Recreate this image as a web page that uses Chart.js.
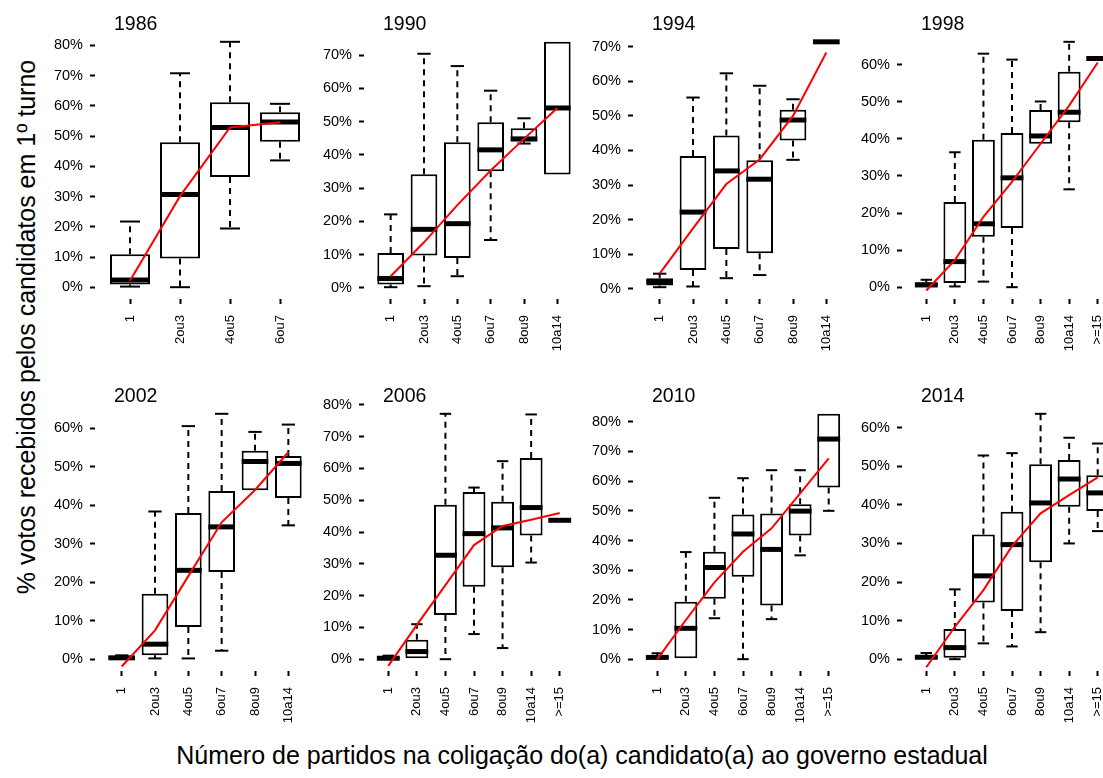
<!DOCTYPE html>
<html>
<head>
<meta charset="utf-8">
<script src="https://cdn.jsdelivr.net/npm/chart.js@4.4.1/dist/chart.umd.min.js"></script>
<style>
  html, body { margin: 0; padding: 0; background: #ffffff; }
  body { width: 1103px; height: 778px; position: relative; overflow: hidden;
         font-family: "Liberation Sans", Arial, sans-serif; color: #000; }
  canvas.panel { position: absolute; }
  #ytitle { position: absolute; left: 26px; top: 327px; white-space: nowrap; font-size: 25px;
            transform: translate(-50%, -50%) rotate(-90deg); }
  #xtitle { position: absolute; left: 582px; top: 755px; white-space: nowrap; font-size: 25px;
            transform: translate(-50%, -50%); }
</style>
</head>
<body>
<div id="ytitle">% votos recebidos pelos candidatos em 1º turno</div>
<div id="xtitle">Número de partidos na coligação do(a) candidato(a) ao governo estadual</div>
<script>
// Election years, one panel each
const years = ['1986', '1990', '1994', '1998', '2002', '2006', '2010', '2014'];

// Coalition-size groups (number of parties in the governor candidate's coalition)
const categories = ['1', '2ou3', '4ou5', '6ou7', '8ou9', '10a14', '>=15'];
const groupCount = [4, 6, 6, 7, 6, 7, 7, 7];

// Highest labelled y tick (%) per panel; ticks every 10%
const yTickTop = [80, 70, 70, 60, 60, 80, 80, 60];

// Box-plot statistics, % of first-round votes, one row per year
const lowerWhisker = [
  [0.3, 0.1, 19.5, 42.0],
  [0.2, 0.5, 3.5, 14.4, 43.4, 34.1],
  [0.5, 0.7, 3.1, 4.0, 37.3, 71.4],
  [0.0, 0.2, 1.5, 0.0, 38.7, 26.4, 61.7],
  [0.0, 0.2, 0.2, 2.2, 43.9, 34.8],
  [0.0, 0.0, 0.0, 7.9, 3.5, 30.4, 43.7],
  [0.0, 0.0, 13.8, 0.0, 13.5, 35.0, 50.0],
  [0.0, 0.0, 4.1, 3.3, 7.0, 30.0, 33.2]
];
const lowerQuartile = [
  [1.0, 9.6, 36.5, 48.2],
  [1.0, 9.7, 9.0, 35.1, 44.0, 34.1],
  [1.0, 5.5, 11.5, 10.3, 42.9, 71.4],
  [0.2, 1.1, 13.6, 16.0, 38.7, 44.5, 61.7],
  [0.2, 1.0, 8.4, 22.7, 43.9, 41.9],
  [0.1, 0.3, 13.9, 22.8, 28.9, 38.9, 43.7],
  [0.0, 0.3, 20.4, 27.8, 18.1, 41.7, 57.9],
  [0.0, 0.4, 14.7, 12.5, 25.1, 39.5, 38.4]
];
const medianValue = [
  [2.5, 30.7, 52.9, 54.7],
  [2.8, 17.6, 19.3, 41.5, 44.8, 54.1],
  [2.1, 22.2, 34.1, 31.7, 48.8, 71.4],
  [0.6, 6.9, 17.1, 29.5, 40.8, 47.2, 61.7],
  [0.35, 3.9, 23.1, 34.4, 51.4, 50.9],
  [0.3, 2.4, 32.7, 39.5, 41.3, 47.7, 43.7],
  [0.6, 10.4, 30.9, 42.2, 37.0, 49.9, 74.2],
  [0.5, 3.0, 21.6, 29.7, 40.5, 46.7, 43.1]
];
const upperQuartile = [
  [11.0, 48.0, 61.2, 57.9],
  [10.5, 34.2, 43.8, 49.8, 48.0, 74.0],
  [3.1, 38.4, 44.3, 37.2, 51.8, 71.4],
  [1.3, 23.0, 39.8, 41.6, 47.8, 58.1, 61.7],
  [0.7, 17.0, 38.0, 43.7, 54.2, 52.8],
  [0.7, 6.1, 48.6, 52.6, 49.5, 63.3, 43.7],
  [1.1, 19.4, 36.2, 48.8, 49.1, 52.2, 82.7],
  [0.9, 7.8, 32.3, 38.2, 50.5, 51.6, 47.7]
];
const upperWhisker = [
  [21.8, 70.8, 81.2, 60.7],
  [22.1, 70.4, 66.7, 59.3, 51.0, 74.0],
  [4.4, 55.3, 62.3, 58.7, 54.8, 71.4],
  [2.0, 36.4, 63.0, 61.4, 50.1, 66.2, 61.7],
  [1.0, 38.4, 60.6, 63.8, 59.1, 61.0],
  [1.1, 11.0, 77.2, 54.0, 62.3, 77.0, 43.7],
  [2.0, 36.1, 54.4, 61.0, 63.7, 63.7, 82.7],
  [1.6, 18.1, 52.8, 53.4, 63.6, 57.4, 55.9]
];

// Fitted trend (red line) per group
const fittedLine = [
  [2.2, 30.2, 52.9, 54.6],
  [3.5, 13.7, 24.9, 35.3, 44.8, 54.1],
  [4.4, 17.5, 30.3, 37.4, 50.0, 68.3],
  [-0.9, 7.3, 19.0, 28.4, 38.7, 49.0, 60.6],
  [-1.9, 7.5, 21.6, 35.6, 44.0, 53.8],
  [-2.1, 10.8, 23.3, 35.9, 41.9, 43.9, 46.0],
  [0.0, 13.2, 25.9, 36.2, 44.1, 55.9, 67.7],
  [-2.1, 8.4, 17.9, 29.3, 37.8, 42.5, 47.1]
];

// Panel layout (pixels)
const PLOT_W = 216, PLOT_H = 265;
const AXIS_W = 60, TITLE_H = 32, XAXIS_H = 60, RIGHT_PAD = 10;
const COL_PITCH = 269, FIRST_COL = 37;
const ROW_TOP = [0, 372];
const FONT = '"Liberation Sans", Arial, sans-serif';

// Whiskers, staples and medians, drawn right after the boxes
const boxWhiskers = {
  id: 'boxWhiskers',
  afterDatasetDraw(chart, args, opts) {
    if (args.meta.type !== 'bar') return;
    const p = opts.panel;
    const xs = chart.scales.x, ys = chart.scales.y, ctx = chart.ctx;
    const area = chart.chartArea;
    const step = xs.getPixelForValue(2) - xs.getPixelForValue(1);
    const seg = (x1, y1, x2, y2) => { ctx.beginPath(); ctx.moveTo(x1, y1); ctx.lineTo(x2, y2); ctx.stroke(); };
    ctx.save();
    ctx.beginPath();
    ctx.rect(area.left, area.top, area.right - area.left, area.bottom - area.top);
    ctx.clip();
    ctx.strokeStyle = '#000';
    ctx.lineCap = 'butt';
    for (let i = 0; i < groupCount[p]; i++) {
      const cx = xs.getPixelForValue(i + 1);
      const yLo = ys.getPixelForValue(lowerWhisker[p][i]);
      const yQ1 = ys.getPixelForValue(lowerQuartile[p][i]);
      const yMd = ys.getPixelForValue(medianValue[p][i]);
      const yQ3 = ys.getPixelForValue(upperQuartile[p][i]);
      const yHi = ys.getPixelForValue(upperWhisker[p][i]);
      ctx.lineWidth = 2;
      ctx.setLineDash([6, 5]);
      if (yQ3 - yHi > 1) seg(cx, yQ3, cx, yHi);
      if (yLo - yQ1 > 1) seg(cx, yQ1, cx, yLo);
      ctx.setLineDash([]);
      if (yQ3 - yHi > 1) seg(cx - 0.2 * step, yHi, cx + 0.2 * step, yHi);
      if (yLo - yQ1 > 1) seg(cx - 0.2 * step, yLo, cx + 0.2 * step, yLo);
      ctx.lineWidth = 5;
      seg(cx - 0.4 * step, yMd, cx + 0.4 * step, yMd);
    }
    ctx.restore();
  }
};

// Year label above each panel
const panelTitle = {
  id: 'panelTitle',
  afterDraw(chart, args, opts) {
    const ctx = chart.ctx;
    ctx.save();
    ctx.font = '19.5px ' + FONT;
    ctx.fillStyle = '#000';
    ctx.textBaseline = 'alphabetic';
    ctx.textAlign = 'left';
    ctx.fillText(opts.text, chart.chartArea.left + 17, chart.chartArea.top - 2);
    ctx.restore();
  }
};

years.forEach((year, p) => {
  const n = groupCount[p];
  const cats = categories.slice(0, n);
  const col = p % 4, row = Math.floor(p / 4);

  const canvas = document.createElement('canvas');
  canvas.className = 'panel';
  const cw = AXIS_W + PLOT_W + RIGHT_PAD, chh = TITLE_H + PLOT_H + XAXIS_H;
  canvas.width = cw; canvas.height = chh;
  canvas.style.width = cw + 'px'; canvas.style.height = chh + 'px';
  canvas.style.left = (FIRST_COL + COL_PITCH * col) + 'px';
  canvas.style.top = ROW_TOP[row] + 'px';
  document.body.appendChild(canvas);

  const lo = Math.min(...lowerWhisker[p]);
  const hi = Math.max(...upperWhisker[p]);
  const pad = 0.04 * (hi - lo);
  const yTicks = [];
  for (let v = 0; v <= yTickTop[p]; v += 10) yTicks.push(v);

  new Chart(canvas, {
    data: {
      datasets: [
        {
          type: 'line',
          order: 0,
          data: fittedLine[p].map((v, i) => ({ x: i + 1, y: v })),
          borderColor: '#ff0000',
          borderWidth: 2,
          pointRadius: 0,
          fill: false,
          tension: 0
        },
        {
          type: 'bar',
          order: 1,
          data: cats.map((c, i) => ({ x: i + 1, y: [lowerQuartile[p][i], upperQuartile[p][i]] })),
          backgroundColor: '#ffffff',
          borderColor: '#000000',
          borderWidth: 2,
          borderSkipped: false,
          categoryPercentage: 1,
          barPercentage: 0.8
        }
      ]
    },
    options: {
      responsive: false,
      animation: false,
      devicePixelRatio: 1,
      layout: { padding: { top: TITLE_H, right: RIGHT_PAD, left: 0, bottom: 0 } },
      plugins: {
        legend: { display: false },
        tooltip: { enabled: false },
        title: { display: false },
        boxWhiskers: { panel: p },
        panelTitle: { text: year }
      },
      scales: {
        x: {
          type: 'linear',
          offset: false,
          min: 0.5 - 0.04 * n,
          max: n + 0.5 + 0.04 * n,
          afterBuildTicks: s => { s.ticks = cats.map((c, i) => ({ value: i + 1 })); },
          afterFit: s => { s.height = XAXIS_H; },
          border: { display: false },
          grid: { offset: false, drawOnChartArea: false, drawTicks: true, tickLength: 7, tickWidth: 2,
                  tickColor: '#000', tickBorderDash: [5, 100], tickBorderDashOffset: 103 },
          ticks: { autoSkip: false, minRotation: 90, maxRotation: 90, padding: 11, color: '#000',
                   font: { family: FONT, size: 13 },
                   callback: v => cats[v - 1] }
        },
        y: {
          type: 'linear',
          min: lo - pad,
          max: hi + pad,
          afterBuildTicks: s => { s.ticks = yTicks.map(v => ({ value: v })); },
          afterFit: s => { s.width = AXIS_W; },
          border: { display: false },
          grid: { drawOnChartArea: false, drawTicks: true, tickLength: 7, tickWidth: 2,
                  tickColor: '#000', tickBorderDash: [5, 100] },
          ticks: { padding: 7, color: '#000', font: { family: FONT, size: 14.5 },
                   callback: v => v + '%' }
        }
      }
    },
    plugins: [boxWhiskers, panelTitle]
  });
});
</script>
</body>
</html>
